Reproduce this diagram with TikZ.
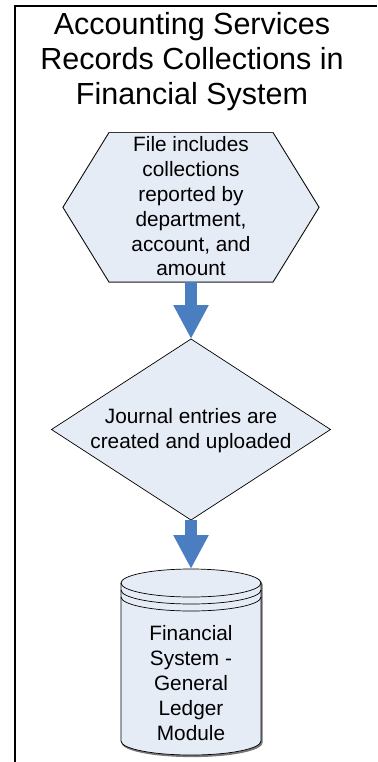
\documentclass[tikz,border=0pt]{standalone}
\usepackage{fontspec}
\setmainfont{Liberation Sans}
\usetikzlibrary{arrows.meta,backgrounds}
\definecolor{shapefill}{RGB}{230,236,246}
\definecolor{flowblue}{RGB}{74,126,192}
\definecolor{shadowgray}{RGB}{120,120,120}
\begin{document}
\begin{tikzpicture}[x=1pt,y=-1pt,
  outline/.style={draw=black, line width=0.7pt, fill=shapefill},
  shadowed/.style={draw=shadowgray, line width=1.2pt, fill=shadowgray},
  boxtext/.style={align=center, inner sep=0pt, font=\fontsize{20.8}{24.8}\selectfont},
  geom/.style={inner sep=0pt, outer sep=0pt},
  flow/.style={draw=flowblue, line width=11.5pt,
    -{Triangle[length=34pt,width=33pt,fill=flowblue]}}]
\useasboundingbox (0,0) rectangle (377,762);

% lane frame: top rule and left rule
\draw[line width=1.8pt] (377,6) -- (15,6) -- (15,762);

% lane title
\node[align=center, inner sep=0pt, font=\fontsize{30.5}{35}\selectfont] (title) at (192,62)
  {Accounting Services\\Records Collections in\\Financial System};

% hexagon: preparation step
\node[geom, minimum width=256, minimum height=149.3] (hex) at (191,207.3) {};
\begin{scope}[on background layer]
  \path[shadowed, shift={(1pt,-1.5pt)}] (hex.west) -- ([xshift=46pt]hex.north west) -- ([xshift=-46pt]hex.north east)
    -- (hex.east) -- ([xshift=-46pt]hex.south east) -- ([xshift=46pt]hex.south west) -- cycle;
\end{scope}
\draw[outline] (hex.west) -- ([xshift=46pt]hex.north west) -- ([xshift=-46pt]hex.north east)
  -- (hex.east) -- ([xshift=-46pt]hex.south east) -- ([xshift=46pt]hex.south west) -- cycle;
\node[boxtext] (hextext) at (191,206.5)
  {File includes\\collections\\reported by\\department,\\account, and\\amount};

% diamond: journal entries
\node[geom, minimum width=279, minimum height=181] (dia) at (191,429.5) {};
\draw[outline] (dia.north) -- (dia.east) -- (dia.south) -- (dia.west) -- cycle;
\node[boxtext] (diatext) at (191,431) {Journal entries are\\created and uploaded};

% cylinder: ledger database
\node[geom, minimum width=140, minimum height=186] (db) at (191,662) {};
\path[shadowed, shift={(1pt,-1.5pt)}] (121,583) -- (121,741)
  arc[start angle=180, end angle=360, x radius=70pt, y radius=14pt]
  -- (261,583) arc[start angle=0, end angle=180, x radius=70pt, y radius=14pt] -- cycle;
\draw[outline] (121,583) -- (121,741)
  arc[start angle=180, end angle=360, x radius=70pt, y radius=14pt]
  -- (261,583) arc[start angle=0, end angle=180, x radius=70pt, y radius=14pt] -- cycle;
\draw[line width=0.7pt] (121,583) arc[start angle=180, end angle=360, x radius=70pt, y radius=14pt];
\draw[line width=0.7pt] (121,590) arc[start angle=180, end angle=360, x radius=70pt, y radius=14pt];
\draw[line width=0.7pt] (121,597) arc[start angle=180, end angle=360, x radius=70pt, y radius=14pt];
\node[boxtext] (dbtext) at (191,683)
  {Financial\\System -\\General\\Ledger\\Module};

% flow arrows
\draw[flow] (hex.south) -- (dia.north);
\draw[flow] (dia.south) -- (db.north);
\end{tikzpicture}
\end{document}
